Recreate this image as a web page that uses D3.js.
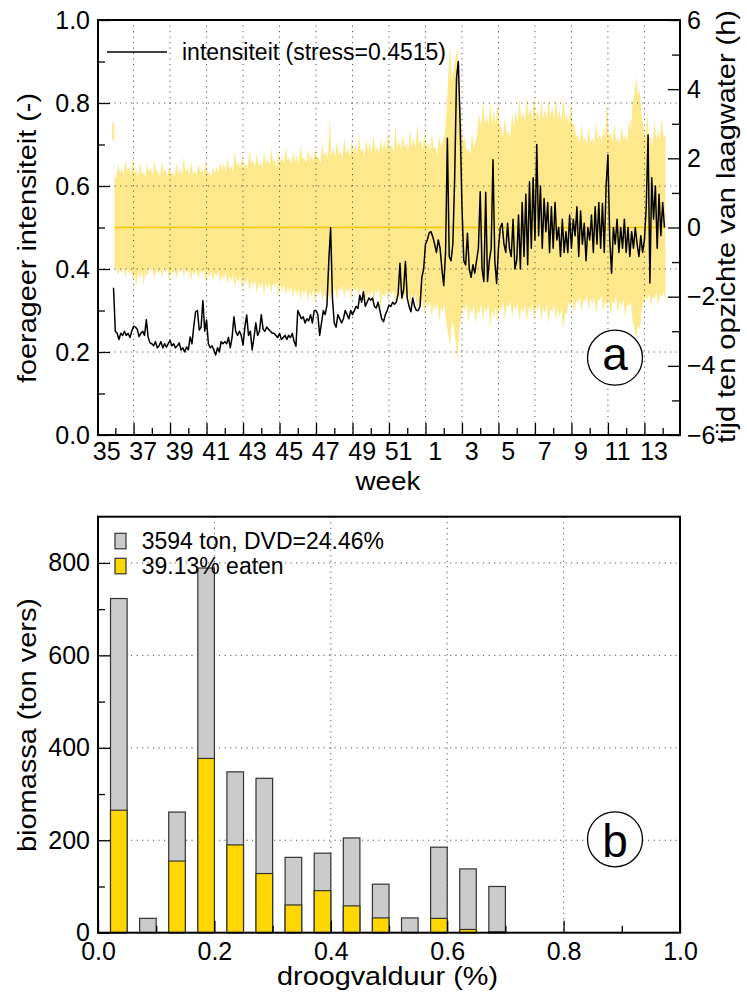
<!DOCTYPE html>
<html>
<head>
<meta charset="utf-8">
<script src="https://cdn.jsdelivr.net/npm/d3@7"></script>
<style>
  body { margin: 0; background: #fff; }
  svg { display: block; font-family: "Liberation Sans", Arial, sans-serif; }
  .grid line { stroke: #555; stroke-width: 1; stroke-dasharray: 1.2 4.3; }
  .tick line { stroke: #000; stroke-width: 1.3; }
</style>
</head>
<body>
<div id="chart"></div>
<script>
// week labels on the time axis (every other week)
const weekLabels = [35, 37, 39, 41, 43, 45, 47, 49, 51, 1, 3, 5, 7, 9, 11, 13];

// foraging intensity, one value per 0.1 week (t = weeks since start of week 35)
const intensityStart = 0.9;
const intensityStep = 0.1;
const intensity = [
  0.355,
  0.25, 0.245, 0.23, 0.245, 0.24, 0.25, 0.24, 0.245, 0.235, 0.25,
  0.262, 0.26, 0.255, 0.237, 0.245, 0.25, 0.24, 0.278, 0.235, 0.222,
  0.22, 0.215, 0.225, 0.21, 0.215, 0.225, 0.21, 0.22, 0.212, 0.22,
  0.228, 0.215, 0.22, 0.21, 0.215, 0.222, 0.205, 0.21, 0.2, 0.212,
  0.205, 0.236, 0.22, 0.262, 0.297, 0.3, 0.253, 0.26, 0.324, 0.25,
  0.277, 0.22, 0.21, 0.215, 0.205, 0.193, 0.21, 0.2, 0.225, 0.22,
  0.225, 0.22, 0.235, 0.21, 0.235, 0.285, 0.25, 0.24, 0.25, 0.24,
  0.217, 0.26, 0.289, 0.24, 0.25, 0.205, 0.235, 0.27, 0.24, 0.25,
  0.29, 0.255, 0.25, 0.26, 0.255, 0.25, 0.245, 0.245, 0.24, 0.235,
  0.245, 0.23, 0.235, 0.24, 0.23, 0.24, 0.235, 0.245, 0.225, 0.214,
  0.3, 0.29, 0.28, 0.285, 0.27, 0.28, 0.275, 0.29, 0.27, 0.3,
  0.3, 0.29, 0.24, 0.27, 0.3, 0.29, 0.313, 0.42, 0.5, 0.33,
  0.27, 0.26, 0.29, 0.28, 0.27, 0.28, 0.3, 0.29, 0.28, 0.3,
  0.29, 0.3, 0.31, 0.305, 0.337, 0.32, 0.345, 0.31, 0.32, 0.33,
  0.325, 0.33, 0.31, 0.306, 0.32, 0.3, 0.28, 0.273, 0.29, 0.3,
  0.313, 0.31, 0.32, 0.315, 0.32, 0.34, 0.414, 0.33, 0.35, 0.418,
  0.33, 0.31, 0.297, 0.33, 0.31, 0.3, 0.3, 0.31, 0.38, 0.4,
  0.46, 0.47, 0.487, 0.49, 0.478, 0.46, 0.44, 0.47, 0.45, 0.4,
  0.36, 0.44, 0.715, 0.43, 0.42, 0.46, 0.62, 0.86, 0.9, 0.75,
  0.55, 0.42, 0.41, 0.486, 0.4, 0.38, 0.41, 0.39, 0.42, 0.45,
  0.586, 0.4, 0.37, 0.585, 0.37, 0.42, 0.45, 0.663, 0.42, 0.365,
  0.45, 0.5, 0.51, 0.46, 0.44, 0.51, 0.45, 0.43, 0.52, 0.4,
  0.42, 0.53, 0.4, 0.56, 0.43, 0.58, 0.41, 0.61, 0.45, 0.62,
  0.47, 0.7, 0.48, 0.6, 0.45, 0.57, 0.49, 0.56, 0.44, 0.55,
  0.45, 0.56, 0.47, 0.5, 0.43, 0.52, 0.44, 0.49, 0.44, 0.53,
  0.45, 0.52, 0.48, 0.55, 0.43, 0.54, 0.46, 0.51, 0.42, 0.5,
  0.47, 0.53, 0.44, 0.55, 0.46, 0.56, 0.45, 0.558, 0.44, 0.6,
  0.675, 0.47, 0.39, 0.5, 0.46, 0.52, 0.44, 0.5, 0.45, 0.52,
  0.44, 0.5, 0.43, 0.49, 0.45, 0.5, 0.46, 0.43, 0.48, 0.44,
  0.47, 0.55, 0.723, 0.366, 0.62, 0.52, 0.6, 0.45, 0.58, 0.48,
  0.56, 0.5
];

// time relative to low water (h): upper and lower envelope, one value per 0.1 week
const tideStart = 0.95;
const tideStep = 0.1;
const tideUpper = [
  1.55, 1.4, 1.85, 1.6, 1.7, 1.5, 1.95, 1.65, 1.75, 1.55, 2.0, 1.6, 1.7, 1.45, 1.9, 1.55, 1.6, 1.45, 1.85, 1.6,
  1.75, 1.5, 1.95, 1.6, 1.65, 1.45, 1.9, 1.6, 1.7, 1.5, 1.8, 1.55, 1.6, 1.45, 1.85, 1.55, 1.7, 1.5, 2.05, 1.6,
  1.75, 1.5, 1.9, 1.55, 1.65, 1.5, 1.85, 1.6, 1.7, 1.5, 1.95, 1.6, 1.6, 1.45, 1.8, 1.55, 1.75, 1.6, 1.9, 1.65,
  1.85, 1.6, 2.05, 1.7, 1.8, 1.6, 2.2, 1.8, 1.9, 1.7, 2.1, 1.75, 1.85, 1.7, 2.25, 1.85, 1.95, 1.75, 2.15, 1.8,
  1.9, 1.7, 2.2, 1.85, 2.0, 1.8, 2.3, 1.9, 1.95, 1.75, 2.25, 1.9, 2.05, 1.85, 2.35, 1.95, 2.0, 1.8, 2.2, 1.9,
  2.1, 1.85, 2.4, 2.0, 2.0, 1.85, 2.3, 1.95, 2.1, 1.9, 2.35, 2.0, 2.05, 1.85, 2.45, 2.05, 2.2, 2.0, 3.15, 2.1,
  2.3, 2.05, 2.5, 2.1, 2.2, 2.0, 2.6, 2.15, 2.3, 2.05, 2.5, 2.15, 2.4, 2.1, 2.7, 2.2, 2.3, 2.05, 2.55, 2.2,
  2.45, 2.15, 2.7, 2.2, 2.35, 2.1, 2.6, 2.25, 2.5, 2.2, 2.8, 2.3, 2.4, 2.15, 2.95, 2.3, 2.5, 2.25, 2.7, 2.3,
  2.45, 2.2, 2.85, 2.35, 2.6, 2.3, 3.0, 2.4, 2.55, 2.25, 2.8, 2.35, 2.45, 2.2, 2.75, 2.3, 2.3, 2.1, 2.65, 2.3,
  2.5, 2.7, 3.3, 4.4, 5.3, 4.2, 4.6, 4.9, 5.2, 4.0, 3.1, 2.5, 2.6, 2.2, 2.3, 2.1, 2.75, 2.3, 2.5, 2.8,
  3.3, 2.9, 3.7, 3.0, 3.25, 2.95, 3.6, 3.05, 3.4, 3.0, 3.7, 3.0, 2.9, 2.6, 3.2, 2.7, 2.8, 2.6, 3.3, 2.9,
  3.4, 3.0, 3.75, 3.15, 3.35, 3.05, 3.8, 3.2, 3.5, 3.1, 3.85, 3.2, 3.4, 3.05, 3.7, 3.15, 3.45, 3.1, 3.8, 3.2,
  3.5, 3.1, 3.75, 3.15, 3.4, 3.05, 3.85, 3.1, 3.3, 2.95, 3.6, 3.0, 3.0, 2.6, 2.7, 2.45, 3.0, 2.5, 2.6, 2.4,
  2.9, 2.45, 2.6, 2.4, 3.05, 2.55, 2.7, 2.45, 2.9, 2.6, 3.7, 2.6, 2.75, 2.45, 3.0, 2.5, 2.6, 2.4, 2.95, 2.5,
  2.7, 2.45, 3.1, 2.8, 3.6, 3.9, 4.35, 3.8, 4.0, 3.2, 2.9, 2.55, 3.35, 2.6, 2.6, 2.35, 3.1, 2.55, 2.8, 2.5,
  3.2, 2.6, 2.7
];
const tideLower = [
  -1.25, -1.15, -1.4, -1.2, -1.3, -1.15, -1.45, -1.2, -1.35, -1.2, -1.5, -1.3, -1.7, -1.3, -1.45, -1.25, -1.65, -1.3, -1.4, -1.15,
  -1.3, -1.15, -1.5, -1.2, -1.35, -1.2, -1.45, -1.15, -1.3, -1.2, -1.55, -1.25, -1.35, -1.2, -1.5, -1.2, -1.3, -1.15, -1.45, -1.2,
  -1.35, -1.2, -1.55, -1.25, -1.4, -1.2, -1.5, -1.25, -1.35, -1.2, -1.6, -1.3, -1.45, -1.25, -1.55, -1.3, -1.4, -1.25, -1.6, -1.35,
  -1.5, -1.3, -1.65, -1.4, -1.55, -1.35, -1.75, -1.45, -1.6, -1.4, -1.8, -1.5, -1.65, -1.45, -1.85, -1.55, -1.7, -1.5, -1.9, -1.6,
  -1.75, -1.55, -1.95, -1.6, -1.8, -1.6, -1.9, -1.6, -1.75, -1.55, -2.0, -1.65, -1.85, -1.65, -1.95, -1.7, -1.9, -1.7, -2.05, -1.75,
  -1.95, -1.75, -2.1, -1.8, -1.95, -1.75, -2.15, -1.85, -2.0, -1.8, -2.2, -1.85, -1.95, -1.75, -2.15, -1.85, -2.05, -1.85, -2.2, -1.85,
  -1.95, -1.75, -2.1, -1.75, -1.85, -1.65, -2.05, -1.75, -1.9, -1.7, -2.1, -1.75, -1.85, -1.7, -2.0, -1.75, -1.95, -1.75, -2.15, -1.85,
  -2.0, -1.8, -2.2, -1.8, -1.9, -1.75, -2.35, -1.9, -2.0, -1.8, -2.15, -1.85, -1.95, -1.8, -2.3, -1.9, -2.05, -1.85, -2.2, -1.9,
  -2.0, -1.85, -2.35, -1.95, -2.1, -1.9, -2.4, -2.05, -2.3, -2.05, -2.55, -2.15, -2.35, -2.1, -2.6, -2.2, -2.4, -2.15, -2.7, -2.3,
  -2.45, -2.2, -2.8, -3.1, -3.45, -2.7, -2.9, -3.3, -3.9, -3.0, -2.6, -2.3, -2.4, -2.15, -2.75, -2.3, -2.5, -2.25, -2.8, -2.4,
  -2.5, -2.2, -2.7, -2.3, -2.45, -2.2, -2.9, -2.4, -2.6, -2.3, -2.75, -2.35, -2.4, -2.15, -2.65, -2.25, -2.3, -2.1, -2.6, -2.25,
  -2.4, -2.15, -2.7, -2.3, -2.5, -2.2, -2.75, -2.3, -2.45, -2.2, -2.65, -2.3, -2.4, -2.15, -2.7, -2.3, -2.5, -2.2, -2.8, -2.35,
  -2.45, -2.2, -2.7, -2.3, -2.6, -2.35, -2.95, -2.5, -2.5, -2.15, -2.3, -2.05, -2.5, -2.1, -2.2, -2.0, -2.45, -2.1, -2.15, -1.95,
  -2.4, -2.05, -2.2, -2.0, -2.5, -2.1, -2.1, -1.95, -2.45, -2.1, -2.3, -2.05, -2.55, -2.15, -2.2, -2.0, -2.5, -2.1, -2.35, -2.05,
  -2.6, -2.2, -2.3, -2.15, -2.7, -2.9, -3.25, -2.8, -2.95, -2.4, -2.2, -2.0, -2.1, -1.9, -2.3, -2.0, -2.05, -1.85, -2.25, -1.95,
  -2.0, -1.85, -2.2
];
// short isolated piece of the band just before the series starts
const tideBlip = { t: 0.88, lo: 2.53, hi: 3.02 };

const stressLabel = "intensiteit (stress=0.4515)";

// histogram of biomass per drying-duration class
const binStart = [0.0, 0.05, 0.1, 0.15, 0.2, 0.25, 0.3, 0.35, 0.4, 0.45, 0.5, 0.55, 0.6, 0.65];
const binWidth = 0.05;
const biomassTotal = [723, 31, 261, 789, 348, 334, 163, 172, 205, 105, 32, 185, 138, 100];
const biomassEaten = [265, 0, 155, 377, 190, 128, 60, 91, 58, 32, 0, 31, 7, 2];
const totalLabel = "3594 ton, DVD=24.46%";
const eatenLabel = "39.13% eaten";

renderChart();

function renderChart() {
  const width = 747;
  const height = 996;
  const left = 98;
  const right = 680;
  const tickFont = "25px";

  const svg = d3
    .select("#chart")
    .append("svg")
    .attr("width", width)
    .attr("height", height);

  // ---------- panel a ----------
  const top = { y0: 20, y1: 435 };

  const xScale = d3.scaleLinear().domain([0.05, 31.95]).range([left, right]);
  const yLeft = d3.scaleLinear().domain([0, 1]).range([top.y1, top.y0]);
  const yRight = d3.scaleLinear().domain([-6, 6]).range([top.y1, top.y0]);

  const bandData = tideUpper.map((hi, i) => ({
    t: tideStart + i * tideStep,
    hi: hi,
    lo: tideLower[i],
  }));
  const lineData = intensity.map((v, i) => ({
    t: intensityStart + i * intensityStep,
    v: v,
  }));

  const a = svg.append("g");

  // yellow band
  a.append("path")
    .datum(bandData)
    .attr("fill", "#fde98b")
    .attr("d", d3.area()
      .x((d) => xScale(d.t))
      .y0((d) => yRight(d.lo))
      .y1((d) => yRight(d.hi)));

  a.append("line")
    .attr("x1", xScale(tideBlip.t))
    .attr("x2", xScale(tideBlip.t))
    .attr("y1", yRight(tideBlip.lo))
    .attr("y2", yRight(tideBlip.hi))
    .attr("stroke", "#fde98b")
    .attr("stroke-width", 2);

  // grid
  const gridA = a.append("g").attr("class", "grid");
  gridA.selectAll(".gy")
    .data([0.2, 0.4, 0.6, 0.8])
    .enter()
    .append("line")
    .attr("x1", left).attr("x2", right)
    .attr("y1", (d) => yLeft(d)).attr("y2", (d) => yLeft(d));
  gridA.selectAll(".gx")
    .data(d3.range(2, 31, 2))
    .enter()
    .append("line")
    .attr("x1", (d) => xScale(d)).attr("x2", (d) => xScale(d))
    .attr("y1", top.y0).attr("y2", top.y1);

  // low water reference line
  a.append("line")
    .attr("x1", xScale(bandData[0].t))
    .attr("x2", xScale(bandData[bandData.length - 1].t))
    .attr("y1", yRight(0)).attr("y2", yRight(0))
    .attr("stroke", "#f5c800")
    .attr("stroke-width", 1.5);

  // intensity line
  a.append("path")
    .datum(lineData)
    .attr("fill", "none")
    .attr("stroke", "#000")
    .attr("stroke-width", 1.5)
    .attr("stroke-linejoin", "round")
    .attr("d", d3.line().x((d) => xScale(d.t)).y((d) => yLeft(d.v)));

  // frame
  a.append("rect")
    .attr("x", left).attr("y", top.y0)
    .attr("width", right - left).attr("height", top.y1 - top.y0)
    .attr("fill", "none").attr("stroke", "#000").attr("stroke-width", 2);

  // axes
  drawAxis(a, d3.axisLeft(yLeft).tickValues([0, 0.2, 0.4, 0.6, 0.8, 1]).tickSize(-12)
    .tickPadding(8).tickFormat(d3.format(".1f")), `translate(${left},0)`, tickFont);
  drawAxis(a, d3.axisLeft(yLeft).tickValues([0.1, 0.3, 0.5, 0.7, 0.9]).tickSize(-7)
    .tickFormat(""), `translate(${left},0)`, tickFont);
  drawAxis(a, d3.axisRight(yRight).tickValues([-6, -4, -2, 0, 2, 4, 6]).tickSize(-12)
    .tickPadding(7).tickFormat(d3.format("d")), `translate(${right},0)`, tickFont);
  drawAxis(a, d3.axisRight(yRight).tickValues([-5, -3, -1, 1, 3, 5]).tickSize(-8)
    .tickFormat(""), `translate(${right},0)`, tickFont);
  drawAxis(a, d3.axisBottom(xScale).tickValues(d3.range(2, 31, 2)).tickSize(-12)
    .tickFormat(""), `translate(0,${top.y1})`, tickFont);
  drawAxis(a, d3.axisBottom(xScale).tickValues(d3.range(1, 32, 2)).tickSize(-7)
    .tickFormat(""), `translate(0,${top.y1})`, tickFont);
  drawAxis(a, d3.axisBottom(xScale).tickValues(weekLabels.map((w, i) => 0.5 + 2 * i)).tickSize(0)
    .tickPadding(7).tickFormat((d) => weekLabels[Math.round((d - 0.5) / 2)]),
    `translate(0,${top.y1})`, tickFont);

  // titles
  title(a, "foerageer intensiteit (-)", 35.5, 238, -90, 290);
  title(a, "tijd ten opzichte van laagwater (h)", 735, 226.5, -90, 433);
  title(a, "week", 388, 490, 0, 65);

  // legend
  a.append("line")
    .attr("x1", 107).attr("x2", 167).attr("y1", 52).attr("y2", 52)
    .attr("stroke", "#000").attr("stroke-width", 1.4);
  a.append("text")
    .attr("x", 182).attr("y", 60)
    .style("font-size", "23px")
    .text(stressLabel);

  panelTag(a, "a", 615, 357.7, 370);

  // ---------- panel b ----------
  const bot = { y0: 516.7, y1: 932.7 };
  const xBin = d3.scaleLinear().domain([0, 1]).range([left, right]);
  const yBio = d3.scaleLinear().domain([0, 900]).range([bot.y1, bot.y0]);

  const b = svg.append("g");

  const gridB = b.append("g").attr("class", "grid");
  gridB.selectAll(".gy")
    .data([200, 400, 600, 800])
    .enter()
    .append("line")
    .attr("x1", left).attr("x2", right)
    .attr("y1", (d) => yBio(d)).attr("y2", (d) => yBio(d));
  gridB.selectAll(".gx")
    .data([0.2, 0.4, 0.6, 0.8])
    .enter()
    .append("line")
    .attr("x1", (d) => xBin(d)).attr("x2", (d) => xBin(d))
    .attr("y1", bot.y0).attr("y2", bot.y1);

  const bars = binStart.map((s, i) => ({
    lo: s + binWidth * 0.43,
    hi: s + binWidth,
    total: biomassTotal[i],
    eaten: biomassEaten[i],
  }));

  b.selectAll(".bar-total")
    .data(bars.filter((d) => d.total > 0))
    .enter()
    .append("rect")
    .attr("class", "bar-total")
    .attr("x", (d) => xBin(d.lo))
    .attr("y", (d) => yBio(d.total))
    .attr("width", (d) => xBin(d.hi) - xBin(d.lo))
    .attr("height", (d) => yBio(0) - yBio(d.total))
    .attr("fill", "#cbcbcb")
    .attr("stroke", "#333")
    .attr("stroke-width", 1.2);

  b.selectAll(".bar-eaten")
    .data(bars.filter((d) => d.eaten > 0))
    .enter()
    .append("rect")
    .attr("class", "bar-eaten")
    .attr("x", (d) => xBin(d.lo))
    .attr("y", (d) => yBio(d.eaten))
    .attr("width", (d) => xBin(d.hi) - xBin(d.lo))
    .attr("height", (d) => yBio(0) - yBio(d.eaten))
    .attr("fill", "#ffd700")
    .attr("stroke", "#333")
    .attr("stroke-width", 1.2);

  b.append("rect")
    .attr("x", left).attr("y", bot.y0)
    .attr("width", right - left).attr("height", bot.y1 - bot.y0)
    .attr("fill", "none").attr("stroke", "#000").attr("stroke-width", 2);

  drawAxis(b, d3.axisLeft(yBio).tickValues([0, 200, 400, 600, 800]).tickSize(-12)
    .tickPadding(8).tickFormat(d3.format("d")), `translate(${left},0)`, tickFont);
  drawAxis(b, d3.axisLeft(yBio).tickValues([100, 300, 500, 700]).tickSize(-7)
    .tickFormat(""), `translate(${left},0)`, tickFont);
  drawAxis(b, d3.axisBottom(xBin).tickValues([0, 0.2, 0.4, 0.6, 0.8, 1]).tickSize(-12)
    .tickPadding(10).tickFormat(d3.format(".1f")), `translate(0,${bot.y1})`, tickFont);
  drawAxis(b, d3.axisBottom(xBin).tickValues([0.1, 0.3, 0.5, 0.7, 0.9]).tickSize(-7)
    .tickFormat(""), `translate(0,${bot.y1})`, tickFont);

  title(b, "biomassa (ton vers)", 35.5, 725, -90, 254);
  title(b, "droogvalduur (%)", 387.5, 985, 0, 221);

  // legend
  const leg = b.append("g");
  [[totalLabel, "#cbcbcb", 533.3, 549], [eatenLabel, "#ffd700", 558.3, 574]].forEach((r) => {
    leg.append("rect")
      .attr("x", 115).attr("y", r[2]).attr("width", 11).attr("height", 15.5)
      .attr("fill", r[1]).attr("stroke", "#333").attr("stroke-width", 1.2);
    leg.append("text")
      .attr("x", 141.7).attr("y", r[3])
      .style("font-size", "23px")
      .text(r[0]);
  });

  panelTag(b, "b", 615, 839.3, 857);
}

function drawAxis(g, axis, transform, fontSize) {
  const ax = g.append("g").attr("transform", transform).call(axis);
  ax.select(".domain").remove();
  ax.selectAll("text").style("font-size", fontSize).attr("fill", "#000");
  ax.attr("font-family", null).attr("font-size", null);
}

function title(g, label, x, y, angle, length) {
  g.append("text")
    .attr("transform", `translate(${x},${y}) rotate(${angle})`)
    .attr("text-anchor", "middle")
    .attr("textLength", length)
    .attr("lengthAdjust", "spacingAndGlyphs")
    .style("font-size", "25px")
    .text(label);
}

function panelTag(g, letter, cx, cy, baseline) {
  g.append("circle")
    .attr("cx", cx).attr("cy", cy).attr("r", 27.5)
    .attr("fill", "#fff").attr("stroke", "#000").attr("stroke-width", 1.3);
  g.append("text")
    .attr("x", cx).attr("y", baseline)
    .attr("text-anchor", "middle")
    .style("font-size", "46px")
    .text(letter);
}
</script>
</body>
</html>
